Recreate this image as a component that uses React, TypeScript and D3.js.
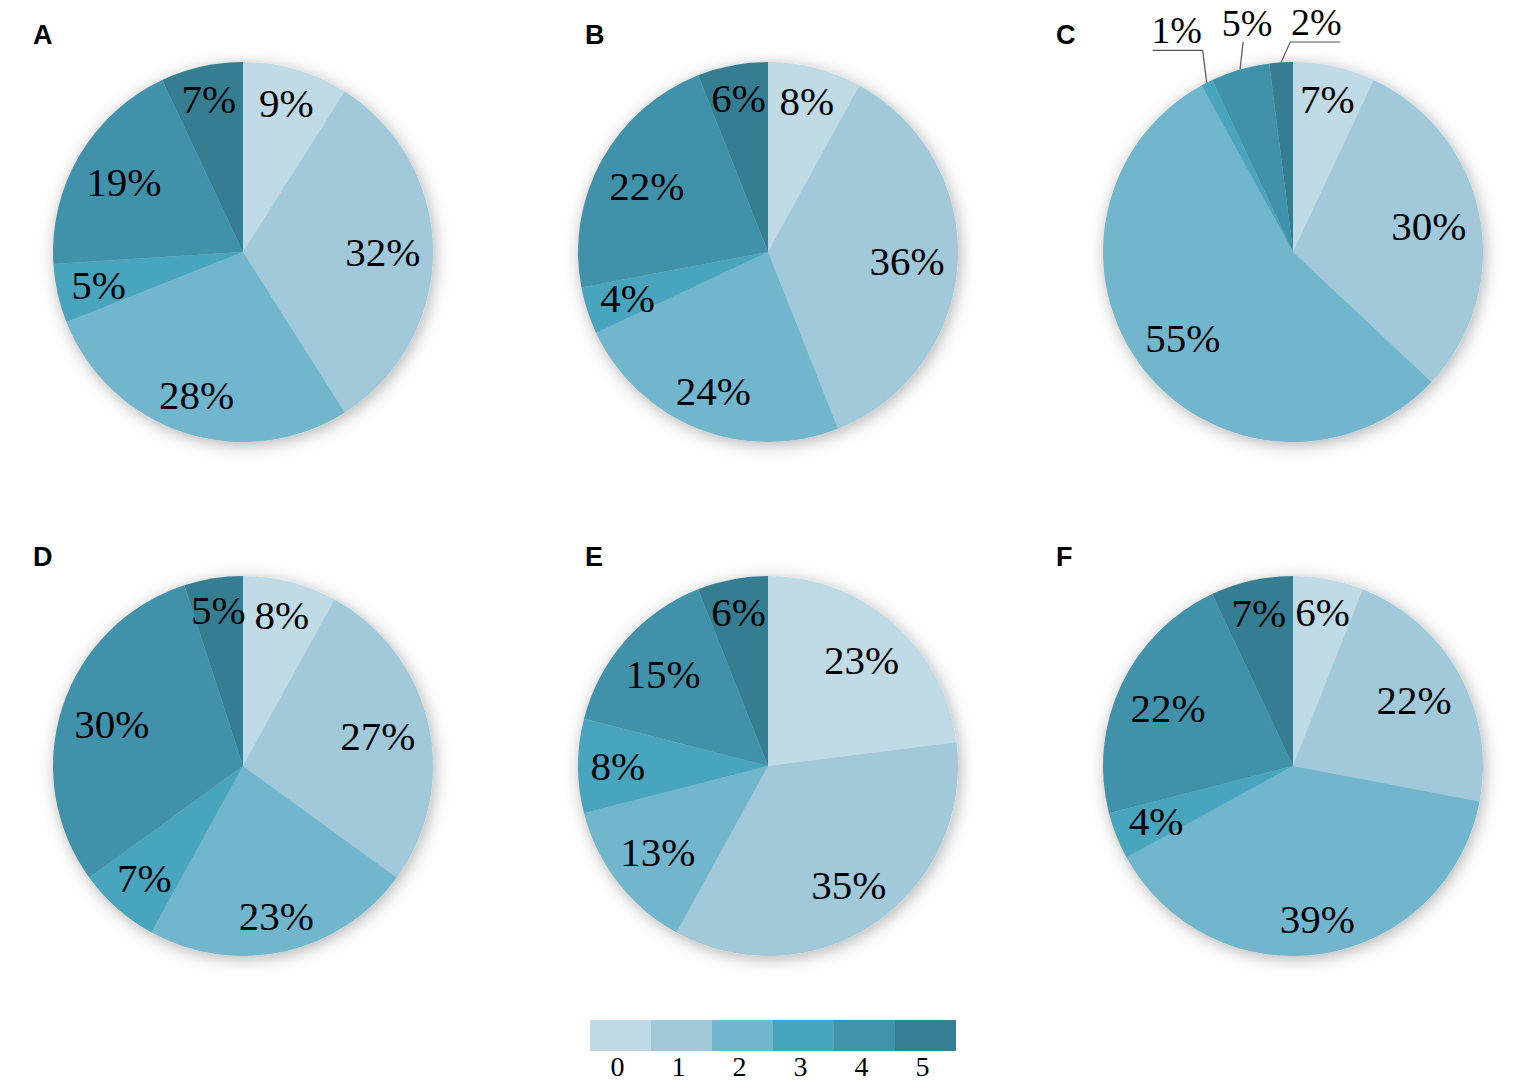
import React from 'react';
import * as d3 from 'd3';

const categories = ['0', '1', '2', '3', '4', '5'];
const colors = ['#c0dbe5', '#a2c9d9', '#71b6cc', '#49a5be', '#4192aa', '#367e92'];

const panelA = [9, 32, 28, 5, 19, 7];
const panelB = [8, 36, 24, 4, 22, 6];
const panelC = [7, 30, 55, 1, 5, 2];
const panelD = [8, 27, 23, 7, 30, 5];
const panelE = [23, 35, 13, 8, 15, 6];
const panelF = [6, 22, 39, 4, 22, 7];

const panelLetters = ['A', 'B', 'C', 'D', 'E', 'F'];
const panelValues = [panelA, panelB, panelC, panelD, panelE, panelF];
// slices labelled outside with leader lines, per panel
const outsideSlices: number[][] = [[], [], [3, 4, 5], [], [], []];

const W = 1535;
const H = 1081;
const colX = [243, 768, 1293];
const rowY = [252, 766];
const R = 190;
const FONT = 41;
const OUT_FONT = 38;
const SERIF = '"Liberation Serif", "Times New Roman", serif';

function textWidth(s: string) {
  let w = 0;
  for (const ch of s) w += ch === '%' ? 0.833 : 0.5;
  return w * FONT;
}

function insideRadius(theta: number, label: string) {
  const w = textWidth(label) / 2;
  const h = 14;
  const D = 178;
  const s = Math.abs(Math.sin(theta));
  const c = Math.abs(Math.cos(theta));
  const b = w * s + h * c;
  return -b + Math.sqrt(b * b - (w * w + h * h - D * D));
}

function Pie({ values, cx, cy, outside }: { values: number[]; cx: number; cy: number; outside: number[] }) {
  const pie = d3.pie<number>().sort(null).value((d) => d).startAngle(0).endAngle(2 * Math.PI);
  const arcs = pie(values);
  const arcGen = d3.arc<d3.PieArcDatum<number>>().innerRadius(0).outerRadius(R);
  return (
    <g transform={`translate(${cx},${cy})`}>
      <g filter="url(#pieShadow)">
        {arcs.map((a, i) => (
          <path key={i} d={arcGen(a) || ''} fill={colors[i]} />
        ))}
      </g>
      {arcs.map((a, i) => {
        const label = `${values[i]}%`;
        const mid = (a.startAngle + a.endAngle) / 2;
        const k = outside.indexOf(i);
        if (k >= 0) {
          const dir = k === 0 ? -1 : k === outside.length - 1 ? 1 : 0;
          const rr = dir === -1 ? 221 : dir === 0 ? 216 : 210;
          const ea = mid + 0.05;
          const ex = Math.sin(mid) * R;
          const ey = -Math.cos(mid) * R;
          const bx = Math.sin(ea) * rr;
          const by = -Math.cos(ea) * rr;
          const hx = bx + dir * 50;
          const lx = dir === 0 ? bx + 4 : bx + dir * 26;
          const ly = dir === 0 ? by - 6 : by - 7;
          return (
            <g key={i}>
              <polyline
                points={`${ex},${ey} ${bx},${by} ${hx},${by}`}
                fill="none"
                stroke="#555"
                strokeWidth={1.2}
              />
              <text x={lx} y={ly} textAnchor="middle" fontFamily={SERIF} fontSize={OUT_FONT} fill="#000">
                {label}
              </text>
            </g>
          );
        }
        const r = insideRadius(mid, label);
        const x = Math.sin(mid) * r;
        const y = -Math.cos(mid) * r;
        return (
          <text
            key={i}
            x={x}
            y={y}
            dy="0.35em"
            textAnchor="middle"
            fontFamily={SERIF}
            fontSize={FONT}
            fill="#000"
          >
            {label}
          </text>
        );
      })}
    </g>
  );
}

function Legend() {
  const x = d3.scaleBand<string>().domain(categories).range([590, 956]).padding(0);
  return (
    <g>
      {categories.map((c, i) => (
        <rect key={c} x={x(c)} y={1020} width={x.bandwidth()} height={31} fill={colors[i]} />
      ))}
      {categories.map((c) => (
        <text
          key={'t' + c}
          x={(x(c) || 0) + x.bandwidth() / 2 - 3}
          y={1076}
          textAnchor="middle"
          fontFamily={SERIF}
          fontSize={28}
          fill="#000"
        >
          {c}
        </text>
      ))}
    </g>
  );
}

export default function App() {
  const letterX = [33, 585, 1056];
  const letterY = [44, 566];
  return (
    <svg
      width={W}
      height={H}
      viewBox={`0 0 ${W} ${H}`}
      style={{ position: 'absolute', left: 0, top: 0, display: 'block', background: '#fff' }}
    >
      <defs>
        <filter id="pieShadow" x="-20%" y="-20%" width="140%" height="140%">
          <feDropShadow dx={2} dy={3} stdDeviation={8} floodColor="#000" floodOpacity={0.3} />
        </filter>
      </defs>
      <rect x={0} y={0} width={W} height={H} fill="#fff" />
      {panelValues.map((vals, p) => {
        const col = p % 3;
        const row = Math.floor(p / 3);
        return (
          <g key={p}>
            <text
              x={letterX[col]}
              y={letterY[row]}
              fontFamily='"Liberation Sans", Arial, sans-serif'
              fontWeight="bold"
              fontSize={27}
              fill="#000"
            >
              {panelLetters[p]}
            </text>
            <Pie values={vals} cx={colX[col]} cy={rowY[row]} outside={outsideSlices[p]} />
          </g>
        );
      })}
      <Legend />
    </svg>
  );
}
